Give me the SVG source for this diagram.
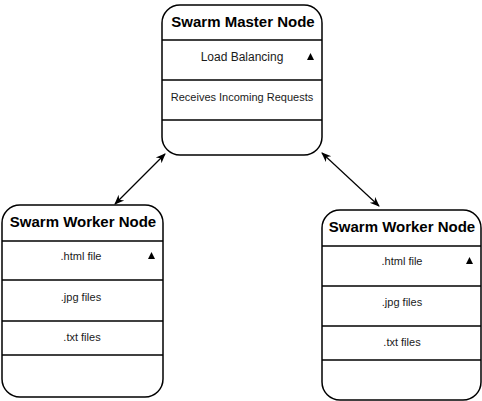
<svg xmlns="http://www.w3.org/2000/svg" width="482" height="401" viewBox="0 0 482 401">
<defs>
<style>
.box{fill:#fff;stroke:#000;stroke-width:1.5}
.sep{stroke:#000;stroke-width:1.5}
.hd{font-family:"Liberation Sans",Arial,sans-serif;font-weight:bold;font-size:15px;text-anchor:middle;fill:#000}
.tx{font-family:"Liberation Sans",Arial,sans-serif;font-size:11px;text-anchor:middle;fill:#1a1a1a}
.tri{fill:#000}
.con{stroke:#000;stroke-width:1.2;fill:none;marker-start:url(#ah);marker-end:url(#ah)}
</style>
<marker id="ah" viewBox="0 0 10 10" refX="9" refY="5" markerWidth="10" markerHeight="10" orient="auto-start-reverse" markerUnits="userSpaceOnUse">
<path d="M0,1 L10,5 L0,9 L3,5 Z" fill="#000"/>
</marker>
</defs>
<rect width="482" height="401" fill="#fff"/>
<g id="master">
<rect class="box" x="162" y="5" width="160" height="150" rx="18"/>
<line class="sep" x1="162" y1="40" x2="322" y2="40"/>
<line class="sep" x1="162" y1="80" x2="322" y2="80"/>
<line class="sep" x1="162" y1="120" x2="322" y2="120"/>
<text class="hd" x="243" y="27">Swarm Master Node</text>
<text class="tx" x="242" y="61" style="font-size:12px">Load Balancing</text>
<path class="tri" d="M307,60 L310.5,53 L314,60 Z"/>
<text class="tx" x="242" y="101">Receives Incoming Requests</text>
</g>
<g id="worker1">
<rect class="box" x="2" y="205" width="161" height="192" rx="18"/>
<line class="sep" x1="2" y1="241" x2="163" y2="241"/>
<line class="sep" x1="2" y1="280" x2="163" y2="280"/>
<line class="sep" x1="2" y1="321" x2="163" y2="321"/>
<line class="sep" x1="2" y1="355" x2="163" y2="355"/>
<text class="hd" x="83" y="227">Swarm Worker Node</text>
<text class="tx" x="81" y="260">.html file</text>
<path class="tri" d="M148,259 L151.5,252 L155,259 Z"/>
<text class="tx" x="81" y="301">.jpg files</text>
<text class="tx" x="82" y="341">.txt files</text>
</g>
<g id="worker2">
<rect class="box" x="322" y="210" width="159" height="190" rx="18"/>
<line class="sep" x1="322" y1="246" x2="481" y2="246"/>
<line class="sep" x1="322" y1="286" x2="481" y2="286"/>
<line class="sep" x1="322" y1="326" x2="481" y2="326"/>
<line class="sep" x1="322" y1="360" x2="481" y2="360"/>
<text class="hd" x="402" y="232">Swarm Worker Node</text>
<text class="tx" x="402" y="265">.html file</text>
<path class="tri" d="M466,264 L469.5,257 L473,264 Z"/>
<text class="tx" x="402" y="306">.jpg files</text>
<text class="tx" x="402" y="346">.txt files</text>
</g>
<g id="connectors">
<line class="con" x1="165" y1="154" x2="115" y2="204"/>
<line class="con" x1="322" y1="153" x2="379" y2="206"/>
</g>
</svg>
